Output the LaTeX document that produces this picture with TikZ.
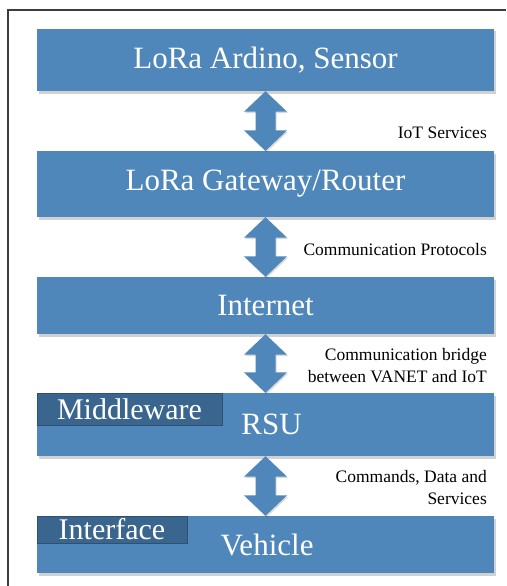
\documentclass[tikz,border=0pt]{standalone}
\usepackage{fontspec}
\setmainfont{Liberation Serif}
\usetikzlibrary{calc,shadows}
\definecolor{boxblue}{RGB}{79,135,187}
\definecolor{tabblue}{RGB}{58,101,143}
\definecolor{framegray}{RGB}{60,60,60}
\tikzset{
  layerbox/.style={rectangle, fill=boxblue, minimum width=457pt, inner sep=0pt,
    text=white, font=\fontsize{31}{34}\selectfont,
    drop shadow={shadow xshift=1.5pt, shadow yshift=-2.5pt, opacity=0.18, fill=black}},
  tabbox/.style={rectangle, fill=tabblue, draw=tabblue!80!black, line width=0.4pt, inner sep=0pt,
    text=white, font=\fontsize{30}{33}\selectfont},
  sidelabel/.style={anchor=east, align=right, inner sep=0pt, text=black,
    font=\fontsize{17.5}{22}\selectfont},
  arrowfill/.style={fill=boxblue,
    drop shadow={shadow xshift=1pt, shadow yshift=-1.5pt, opacity=0.15, fill=black}}
}
\newcommand{\blockarrow}[2]{%
  \path[arrowfill] (#1.south) -- ++(21.5,20.5) -- ++(-11.5,0)
    -- ($(#2.north)+(10,-20.5)$) -- ++(11.5,0) -- (#2.north)
    -- ++(-21.5,-20.5) -- ++(11.5,0) -- ($(#1.south)+(-10,20.5)$)
    -- ++(-11.5,0) -- cycle;}
\begin{document}
\begin{tikzpicture}[x=1pt,y=-1pt]
\useasboundingbox (0,0) rectangle (506,586);
\fill[white] (0,0) rectangle (506,586);
\draw[framegray, line width=1.4pt] (8,586) -- (8,10) -- (506,10);

\node[layerbox, minimum height=62pt] (b1) at (265.5,60) {LoRa Ardino, Sensor};
\node[layerbox, minimum height=66pt] (b2) at (265.5,184) {LoRa Gateway/Router};
\node[layerbox, minimum height=57pt] (b3) at (265.5,305.5) {Internet};
\node[layerbox, minimum height=63pt] (b4) at (265.5,424.5) {\hspace*{12pt}RSU};
\node[layerbox, minimum height=57pt] (b5) at (265.5,544.5) {\hspace*{3pt}Vehicle};

\node[tabbox, minimum width=185pt, minimum height=32pt] (t1) at (129.5,409) {Middleware};
\node[tabbox, minimum width=150pt, minimum height=27pt] (t2) at (112,529.5) {Interface};

\blockarrow{b1}{b2}
\blockarrow{b2}{b3}
\blockarrow{b3}{b4}
\blockarrow{b4}{b5}

\node[sidelabel] (l1) at (487,133) {IoT Services};
\node[sidelabel] (l2) at (487,250) {Communication Protocols};
\node[sidelabel] (l3) at (487,366) {Communication bridge\\between VANET and IoT};
\node[sidelabel] (l4) at (487,487.5) {Commands, Data and\\Services};
\end{tikzpicture}
\end{document}
